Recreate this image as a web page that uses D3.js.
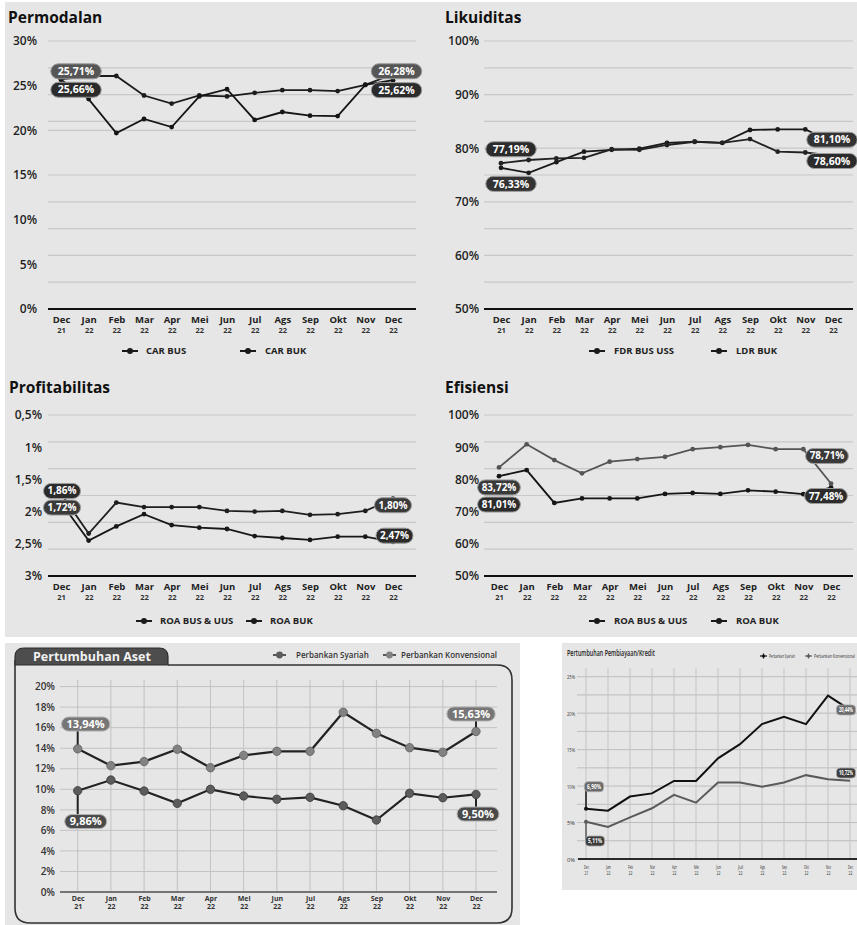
<!DOCTYPE html>
<html>
<head>
<meta charset="utf-8">
<script src="https://cdn.jsdelivr.net/npm/d3@7"></script>
<style>
  html, body { margin: 0; padding: 0; background: #ffffff; }
  svg { display: block; }
  text { font-family: "Open Sans", "DejaVu Sans", sans-serif; }
</style>
</head>
<body>
<svg id="chart" width="857" height="925"></svg>
<script>
// ---------- categories ----------
const months = ["Dec","Jan","Feb","Mar","Apr","Mei","Jun","Jul","Ags","Sep","Okt","Nov","Dec"];
const years  = ["21","22","22","22","22","22","22","22","22","22","22","22","22"];

// ---------- Permodalan (CAR, %) ----------
const carBus = [25.71, 26.08, 26.08, 23.9, 23.0, 23.9, 23.8, 24.2, 24.5, 24.5, 24.4, 25.1, 26.28];
const carBuk = [25.66, 23.5, 19.7, 21.27, 20.37, 23.8, 24.6, 21.16, 22.05, 21.64, 21.6, 25.08, 25.62];
const carTicks = [0, 5, 10, 15, 20, 25, 30];
const carGrid  = [0, 3, 6, 9, 12, 15, 20, 21, 24, 27, 30];

// ---------- Likuiditas (FDR / LDR, %) ----------
const fdrBusUss = [76.33, 75.4, 77.4, 79.35, 79.7, 79.9, 81.0, 81.2, 81.0, 83.4, 83.5, 83.5, 81.10];
const ldrBuk    = [77.19, 77.8, 78.1, 78.2, 79.8, 79.7, 80.6, 81.2, 81.0, 81.7, 79.35, 79.2, 78.60];
const likTicks = [50, 60, 70, 80, 90, 100];
const likGrid  = [50, 55, 60, 65, 70, 75, 80, 85, 90, 95, 100];

// ---------- Profitabilitas (ROA, %) ----------
const roaBusUus = [1.72, 2.34, 1.86, 1.93, 1.93, 1.93, 1.99, 2.00, 1.99, 2.05, 2.04, 1.99, 1.80];
const roaBuk    = [1.86, 2.45, 2.23, 2.04, 2.21, 2.25, 2.27, 2.38, 2.41, 2.44, 2.39, 2.39, 2.47];
const roaTicks = [0.5, 1, 1.5, 2, 2.5, 3];

// ---------- Efisiensi (%) ----------
const efBusUus = [81.01, 82.9, 72.7, 74.1, 74.1, 74.1, 75.5, 75.8, 75.5, 76.6, 76.2, 75.4, 77.48];
const efBuk    = [83.72, 90.9, 86.0, 81.9, 85.5, 86.3, 87.0, 89.4, 90.0, 90.7, 89.4, 89.4, 78.71];
const efTicks = [50, 60, 70, 80, 90, 100];

// ---------- Pertumbuhan Aset (%) ----------
const asetSyariah      = [9.86, 10.9, 9.83, 8.63, 10.0, 9.35, 9.03, 9.22, 8.40, 7.01, 9.61, 9.18, 9.50];
const asetKonvensional = [13.94, 12.3, 12.7, 13.9, 12.1, 13.3, 13.7, 13.7, 17.5, 15.45, 14.05, 13.6, 15.63];
const asetTicks = [0, 2, 4, 6, 8, 10, 12, 14, 16, 18, 20];

// ---------- Pertumbuhan Pembiayaan/Kredit (%) ----------
const kreditSyariah      = [6.90, 6.63, 8.56, 9.0, 10.7, 10.7, 13.8, 15.75, 18.5, 19.5, 18.5, 22.4, 20.44];
const kreditKonvensional = [5.11, 4.4, 5.7, 6.96, 8.8, 7.73, 10.5, 10.5, 9.9, 10.5, 11.5, 10.95, 10.72];
const kreditTicks = [0, 5, 10, 15, 20, 25];
const kreditGrid  = [0, 2.5, 5, 7.5, 10, 12.5, 15, 17.5, 20, 22.5, 25];

// ---------- helpers ----------
const svg = d3.select("#chart");
const idx = d3.range(months.length);
const fmtPct  = v => d3.format(".2f")(v).replace(".", ",") + "%";
const fmtTick = v => String(v).replace(".", ",") + "%";
const cond = "'DejaVu Sans Condensed', 'Liberation Sans Narrow', 'DejaVu Sans', sans-serif";

// text squeezed horizontally to a target width (narrow lettering)
function squeezeText(g, x, y, str, o) {
  const t = g.append("text").attr("x", 0).attr("y", 0).attr("dy", "0.35em")
    .attr("text-anchor", o.anchor || "start")
    .attr("font-family", cond).attr("font-size", o.fs)
    .attr("font-weight", o.weight || 400).attr("fill", o.fill || "#333").text(str);
  const len = t.node().getComputedTextLength();
  const sx = Math.min(1, o.width / len);
  t.attr("transform", `translate(${x},${y}) scale(${sx},1)`);
  return t;
}

function pill(g, cx, cy, txt, o) {
  const grp = g.append("g");
  const r = grp.append("rect");
  let w;
  if (o.squeeze) {
    squeezeText(grp, cx, cy, txt, { fs: o.fs, width: o.squeeze, anchor: "middle", weight: 700, fill: "#fff" });
    w = o.w;
  } else {
    const t = grp.append("text")
      .attr("x", cx).attr("y", cy).attr("dy", "0.35em")
      .attr("text-anchor", "middle")
      .attr("fill", "#ffffff")
      .attr("font-size", o.fs)
      .attr("font-weight", 700)
      .text(txt);
    w = o.w || (t.node().getComputedTextLength() + o.padX * 2);
  }
  r.attr("x", cx - w / 2).attr("y", cy - o.h / 2)
    .attr("width", w).attr("height", o.h).attr("rx", o.rx != null ? o.rx : o.h / 2)
    .attr("fill", o.fill).attr("stroke", o.stroke || "#9c9c9c").attr("stroke-width", o.sw || 1);
}

// backgrounds
svg.append("rect").attr("x", 5).attr("y", 2).attr("width", 852).attr("height", 635).attr("fill", "#e6e6e6");
svg.append("rect").attr("x", 5).attr("y", 643).attr("width", 515).attr("height", 282).attr("fill", "#e6e6e6");
svg.append("rect").attr("x", 562).attr("y", 643).attr("width", 295).attr("height", 247).attr("fill", "#e6e6e6");

// ---------- four small indicator panels ----------
function topPanel(c) {
  const g = svg.append("g");
  const x = d3.scalePoint().domain(idx).range(c.xRange);
  const y = d3.scaleLinear().domain(c.yDomain).range(c.yRange);

  g.append("text").attr("x", c.titleX).attr("y", c.titleY)
    .attr("font-size", 15.5).attr("font-weight", 700).attr("fill", "#111").text(c.title);

  g.append("g").selectAll("line").data(c.grid).join("line")
    .attr("x1", c.plotX[0]).attr("x2", c.plotX[1])
    .attr("y1", d => y(d)).attr("y2", d => y(d))
    .attr("stroke", "#c8c8c8").attr("stroke-width", 1.2);

  const ya = g.append("g").attr("transform", `translate(${c.yLabelX},0)`)
    .call(d3.axisLeft(y).tickValues(c.ticks).tickSize(0).tickPadding(0).tickFormat(fmtTick));
  ya.select(".domain").remove();
  ya.attr("font-family", null).attr("font-size", null);
  ya.selectAll("text").attr("font-size", 12).attr("font-weight", 600).attr("fill", "#1e1e1e");

  const xa = g.append("g").attr("transform", `translate(0,${c.axisY})`)
    .call(d3.axisBottom(x).tickSize(0).tickPadding(0).tickFormat(i => months[i]));
  xa.select(".domain").remove();
  xa.attr("font-family", null).attr("font-size", null);
  xa.selectAll(".tick text").attr("y", 13.5).attr("dy", 0)
    .attr("font-size", 9.5).attr("font-weight", 700).attr("fill", "#222");
  xa.selectAll(".tick").append("text").attr("y", 23.5).attr("text-anchor", "middle")
    .attr("font-size", 7.5).attr("font-weight", 700).attr("fill", "#333").text(i => years[i]);

  g.append("line").attr("x1", c.plotX[0]).attr("x2", c.plotX[1])
    .attr("y1", c.axisY).attr("y2", c.axisY).attr("stroke", "#111").attr("stroke-width", 2);

  const line = d3.line().x((d, i) => x(i)).y(d => y(d));
  c.series.forEach(s => {
    g.append("path").datum(s.values).attr("d", line)
      .attr("fill", "none").attr("stroke", s.color).attr("stroke-width", 1.8);
    g.append("g").selectAll("circle").data(s.values).join("circle")
      .attr("cx", (d, i) => x(i)).attr("cy", d => y(d)).attr("r", 2.4).attr("fill", s.color);
  });
  c.series.forEach(s => s.labels.forEach(l => {
    pill(g, x(l.i) + l.dx, y(s.values[l.i]) + l.dy, fmtPct(s.values[l.i]),
      { fs: c.pillFs || 10.5, h: 15, padX: c.pillPad || 7, fill: s.pill });
  }));

  // legend
  c.series.forEach(s => {
    const lg = g.append("g");
    lg.append("line").attr("x1", s.legend.x).attr("x2", s.legend.x + 16)
      .attr("y1", c.legendY).attr("y2", c.legendY).attr("stroke", "#1a1a1a").attr("stroke-width", 2);
    lg.append("circle").attr("cx", s.legend.x + 8).attr("cy", c.legendY).attr("r", 3).attr("fill", "#1a1a1a");
    lg.append("text").attr("x", s.legend.tx).attr("y", c.legendY).attr("dy", "0.35em")
      .attr("font-size", 9.5).attr("font-weight", 700).attr("fill", "#222").text(s.name);
  });
}

topPanel({
  title: "Permodalan", titleX: 8, titleY: 23,
  xRange: [61, 393], plotX: [48, 416],
  yDomain: [0, 30], yRange: [309, 41], ticks: carTicks, grid: carGrid,
  yLabelX: 37, axisY: 309, legendY: 351,
  series: [
    { name: "CAR BUS", values: carBus, color: "#1c1c1c", pill: "#565656",
      labels: [{ i: 0, dx: 15, dy: -8 }, { i: 12, dx: 3.5, dy: -3 }], legend: { x: 122, tx: 146 } },
    { name: "CAR BUK", values: carBuk, color: "#151515", pill: "#2b2b2b",
      labels: [{ i: 0, dx: 15, dy: 10 }, { i: 12, dx: 3.5, dy: 10 }], legend: { x: 240, tx: 265 } }
  ]
});

topPanel({
  title: "Likuiditas", titleX: 445, titleY: 23,
  xRange: [501, 833], plotX: [484, 853],
  yDomain: [50, 100], yRange: [309, 41], ticks: likTicks, grid: likGrid,
  yLabelX: 479, axisY: 309, legendY: 351,
  series: [
    { name: "FDR BUS USS", values: fdrBusUss, color: "#1a1a1a", pill: "#333333",
      labels: [{ i: 0, dx: 10, dy: 16 }, { i: 12, dx: -1, dy: -2.6 }], legend: { x: 589, tx: 614 } },
    { name: "LDR BUK", values: ldrBuk, color: "#222222", pill: "#2b2b2b",
      labels: [{ i: 0, dx: 10, dy: -14 }, { i: 12, dx: -1, dy: 5.3 }], legend: { x: 711, tx: 736 } }
  ]
});

topPanel({
  title: "Profitabilitas", titleX: 9, titleY: 393,
  xRange: [61, 393], plotX: [48, 416],
  yDomain: [0.5, 3], yRange: [415, 576], ticks: roaTicks,
  grid: d3.range(7).map(k => 0.5 + k * 2.5 / 6),
  yLabelX: 42, axisY: 576, legendY: 621, pillFs: 10, pillPad: 4,
  series: [
    { name: "ROA BUS & UUS", values: roaBusUus, color: "#1e1e1e", pill: "#3a3a3a",
      labels: [{ i: 0, dx: 1, dy: 14 }, { i: 12, dx: 0, dy: 6.5 }], legend: { x: 136, tx: 160 } },
    { name: "ROA BUK", values: roaBuk, color: "#181818", pill: "#2b2b2b",
      labels: [{ i: 0, dx: 1, dy: -11.6 }, { i: 12, dx: 1.5, dy: -6.2 }], legend: { x: 246, tx: 270 } }
  ]
});

topPanel({
  title: "Efisiensi", titleX: 445, titleY: 393,
  xRange: [499, 831], plotX: [484, 853],
  yDomain: [50, 100], yRange: [576, 415], ticks: efTicks,
  grid: d3.range(7).map(k => 50 + k * 50 / 6),
  yLabelX: 479, axisY: 576, legendY: 621, pillFs: 10, pillPad: 4,
  series: [
    { name: "ROA BUS & UUS", values: efBusUus, color: "#161616", pill: "#2c2c2c",
      labels: [{ i: 0, dx: 0, dy: 28.4 }, { i: 12, dx: -5, dy: 8.5 }], legend: { x: 589, tx: 614 } },
    { name: "ROA BUK", values: efBuk, color: "#555555", pill: "#3a3a3a",
      labels: [{ i: 0, dx: 0, dy: 20 }, { i: 12, dx: -4, dy: -27.6 }], legend: { x: 711, tx: 736 } }
  ]
});

// ---------- Pertumbuhan Aset ----------
(function () {
  const g = svg.append("g");
  const x = d3.scalePoint().domain(idx).range([77.7, 476]);
  const y = d3.scaleLinear().domain([0, 20]).range([892, 686.6]);

  // framed panel with tab
  g.append("path")
    .attr("d", "M168,665 H497 Q512,665 512,680 V908 Q512,923 497,923 H30 Q15,923 15,908 V660")
    .attr("fill", "none").attr("stroke", "#333").attr("stroke-width", 1.6);
  g.append("path")
    .attr("d", "M15,665 V657 Q15,648 24,648 H159 Q168,648 168,657 V665 Z")
    .attr("fill", "#4d4d4d").attr("stroke", "#2e2e2e").attr("stroke-width", 1.2);
  g.append("text").attr("x", 33).attr("y", 661)
    .attr("font-size", 12.5).attr("font-weight", 700).attr("fill", "#f2f2f2").text("Pertumbuhan Aset");

  g.append("g").selectAll("line").data(asetTicks).join("line")
    .attr("x1", 60).attr("x2", 497).attr("y1", d => y(d)).attr("y2", d => y(d))
    .attr("stroke", "#c2c2c2").attr("stroke-width", 1);
  g.append("g").selectAll("line").data(idx).join("line")
    .attr("x1", d => x(d)).attr("x2", d => x(d)).attr("y1", 680).attr("y2", 892)
    .attr("stroke", "#c2c2c2").attr("stroke-width", 1);
  g.append("line").attr("x1", 60).attr("x2", 497).attr("y1", 892).attr("y2", 892)
    .attr("stroke", "#555").attr("stroke-width", 1.6);

  const ya = g.append("g").attr("transform", "translate(55,0)")
    .call(d3.axisLeft(y).tickValues(asetTicks).tickSize(0).tickPadding(0).tickFormat(fmtTick));
  ya.select(".domain").remove();
  ya.attr("font-family", null).attr("font-size", null);
  ya.selectAll("text").attr("font-size", 10).attr("font-weight", 600).attr("fill", "#333");

  const xa = g.append("g").attr("transform", "translate(0,892)")
    .call(d3.axisBottom(x).tickSize(0).tickPadding(0).tickFormat(i => months[i]));
  xa.select(".domain").remove();
  xa.attr("font-family", null).attr("font-size", null);
  xa.selectAll(".tick text").attr("y", 8.5).attr("dy", 0)
    .attr("font-size", 7).attr("font-weight", 700).attr("fill", "#333");
  xa.selectAll(".tick").append("text").attr("y", 17).attr("text-anchor", "middle")
    .attr("font-size", 7).attr("font-weight", 700).attr("fill", "#333").text(i => years[i]);

  const series = [
    { name: "Perbankan Syariah", values: asetSyariah, dot: "#5c5c5c", dotStroke: "#3a3a3a", pill: "#4a4a4a",
      labels: [{ i: 0, dx: 8, dy: 30.8 }, { i: 12, dx: 2, dy: 19.6 }], legendX: 273, tx: 296 },
    { name: "Perbankan Konvensional", values: asetKonvensional, dot: "#828282", dotStroke: "#5e5e5e", pill: "#767676",
      labels: [{ i: 0, dx: 8, dy: -24.8 }, { i: 12, dx: -5, dy: -17.5 }], legendX: 383, tx: 401 }
  ];
  const line = d3.line().x((d, i) => x(i)).y(d => y(d));
  series.forEach(s => {
    s.labels.forEach(l => {
      g.append("line").attr("x1", x(l.i)).attr("x2", x(l.i))
        .attr("y1", y(s.values[l.i])).attr("y2", y(s.values[l.i]) + l.dy)
        .attr("stroke", "#222").attr("stroke-width", 2);
    });
    g.append("path").datum(s.values).attr("d", line)
      .attr("fill", "none").attr("stroke", "#222").attr("stroke-width", 2.2);
  });
  series.forEach(s => {
    g.append("g").selectAll("circle").data(s.values).join("circle")
      .attr("cx", (d, i) => x(i)).attr("cy", d => y(d)).attr("r", 4.2)
      .attr("fill", s.dot).attr("stroke", s.dotStroke).attr("stroke-width", 0.8);
  });
  series.forEach(s => s.labels.forEach(l => {
    pill(g, x(l.i) + l.dx, y(s.values[l.i]) + l.dy, fmtPct(s.values[l.i]),
      { fs: 11, h: 14, padX: 5, fill: s.pill, stroke: "#b0b0b0" });
  }));

  series.forEach(s => {
    g.append("line").attr("x1", s.legendX).attr("x2", s.legendX + 13)
      .attr("y1", 655).attr("y2", 655).attr("stroke", "#333").attr("stroke-width", 1.6);
    g.append("circle").attr("cx", s.legendX + 6.5).attr("cy", 655).attr("r", 3.4).attr("fill", s.dot);
    g.append("text").attr("x", s.tx).attr("y", 655).attr("dy", "0.35em")
      .attr("font-size", 8).attr("font-weight", 600).attr("fill", "#333").text(s.name);
  });
})();

// ---------- Pertumbuhan Pembiayaan/Kredit ----------
(function () {
  const g = svg.append("g");
  const x = d3.scalePoint().domain(idx).range([586, 850]);
  const y = d3.scaleLinear().domain([0, 25]).range([859, 676.7]);

  squeezeText(g, 567, 653, "Pertumbuhan Pembiayaan/Kredit", { fs: 8.5, width: 88, weight: 600, fill: "#222" });

  g.append("g").selectAll("line").data(kreditGrid).join("line")
    .attr("x1", 577).attr("x2", 857).attr("y1", d => y(d)).attr("y2", d => y(d))
    .attr("stroke", "#bdbdbd").attr("stroke-width", 1);
  g.append("g").selectAll("line").data(idx).join("line")
    .attr("x1", d => x(d)).attr("x2", d => x(d)).attr("y1", 668).attr("y2", 859)
    .attr("stroke", "#c4c4c4").attr("stroke-width", 1);
  g.append("line").attr("x1", 578).attr("x2", 857).attr("y1", 859).attr("y2", 859)
    .attr("stroke", "#2a2a2a").attr("stroke-width", 2);

  // y tick labels: positions from the scale, lettering squeezed
  const ya = g.append("g").attr("transform", "translate(575,0)")
    .call(d3.axisLeft(y).tickValues(kreditTicks).tickSize(0).tickPadding(0).tickFormat(""));
  ya.select(".domain").remove();
  ya.selectAll(".tick").each(function (d) {
    squeezeText(d3.select(this), 0, 0, fmtTick(d), { fs: 6, width: 8, anchor: "end" });
  });

  const xa = g.append("g").attr("transform", "translate(0,859)")
    .call(d3.axisBottom(x).tickSize(0).tickPadding(0).tickFormat(""));
  xa.select(".domain").remove();
  xa.selectAll(".tick").each(function (i) {
    const t = d3.select(this);
    squeezeText(t, 0, 8, months[i], { fs: 5, width: 5, anchor: "middle" });
    squeezeText(t, 0, 14, years[i], { fs: 5, width: 4, anchor: "middle" });
  });

  const series = [
    { name: "Perbankan Syariah", values: kreditSyariah, color: "#111111", pill: "#6a6a6a",
      labels: [{ i: 0, dx: 8, dy: -22, conn: true }, { i: 12, dx: -4, dy: 0 }], legendX: 760, tx: 769, tl: 26 },
    { name: "Perbankan Konvensional", values: kreditKonvensional, color: "#5a5a5a", pill: "#3c3c3c",
      labels: [{ i: 0, dx: 9, dy: 19.3, conn: true }, { i: 12, dx: -4, dy: -7.8 }], legendX: 805, tx: 814, tl: 41 }
  ];
  const line = d3.line().x((d, i) => x(i)).y(d => y(d));
  series.forEach(s => {
    s.labels.filter(l => l.conn).forEach(l => {
      g.append("line").attr("x1", x(l.i)).attr("x2", x(l.i))
        .attr("y1", y(s.values[l.i])).attr("y2", y(s.values[l.i]) + l.dy)
        .attr("stroke", s.color).attr("stroke-width", 1.5);
    });
    g.append("path").datum(s.values).attr("d", line)
      .attr("fill", "none").attr("stroke", s.color).attr("stroke-width", 2);
    g.append("circle").attr("cx", x(0)).attr("cy", y(s.values[0])).attr("r", 2).attr("fill", s.color);
  });
  series.forEach(s => s.labels.forEach(l => {
    pill(g, x(l.i) + l.dx, y(s.values[l.i]) + l.dy, fmtPct(s.values[l.i]),
      { fs: 7, h: 10, rx: 3.5, w: 19, squeeze: 14, fill: s.pill, stroke: "#a8a8a8", sw: 0.8 });
  }));

  series.forEach(s => {
    g.append("line").attr("x1", s.legendX).attr("x2", s.legendX + 7)
      .attr("y1", 656).attr("y2", 656).attr("stroke", s.color).attr("stroke-width", 1.2);
    g.append("line").attr("x1", s.legendX + 3.5).attr("x2", s.legendX + 3.5)
      .attr("y1", 653.5).attr("y2", 658.5).attr("stroke", s.color).attr("stroke-width", 1.2);
    g.append("circle").attr("cx", s.legendX + 3.5).attr("cy", 656).attr("r", 1.6).attr("fill", s.color);
    squeezeText(g, s.tx, 656, s.name, { fs: 5, width: s.tl });
  });
})();
</script>
</body>
</html>
